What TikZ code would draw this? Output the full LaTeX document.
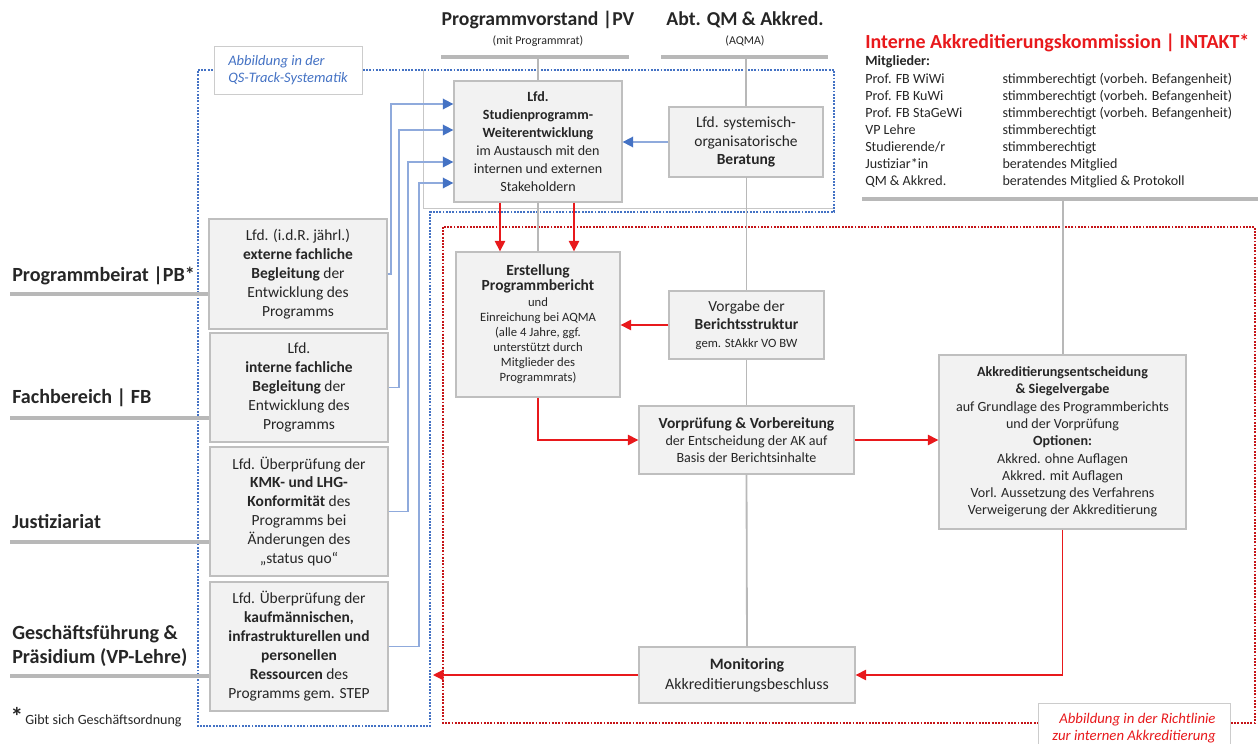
\documentclass[tikz,border=0pt]{standalone}
\usepackage{fontspec}
\setmainfont{Carlito}
\usetikzlibrary{positioning, arrows.meta, calc}
\definecolor{QSBlue}{HTML}{4472C4}
\definecolor{QSLine}{HTML}{8FAADC}
\definecolor{AkkRed}{HTML}{E8191C}
\definecolor{BoxFill}{HTML}{F2F2F2}
\definecolor{BoxLine}{HTML}{BFBFBF}
\definecolor{TextGrey}{HTML}{262626}

\begin{document}
\begin{tikzpicture}[x=0.025cm, y=-0.025cm,
  box/.style={draw=BoxLine, line width=0.9pt, fill=BoxFill, align=center,
    text=TextGrey, font=\fontsize{10}{12.3}\selectfont, inner sep=2pt},
  sidebox/.style={box, font=\fontsize{11}{13.5}\selectfont,
    minimum width=4.45cm, minimum height=3.225cm},
  orgline/.style={draw=black!28, line width=2.2pt},
  orglink/.style={draw=black!28, line width=1.3pt},
  qsarrow/.style={draw=QSLine, line width=1.2pt,
    -{Triangle[length=7.5pt,width=7.5pt,color=QSBlue]}},
  akkarrow/.style={draw=AkkRed, line width=0.9pt,
    -{Triangle[length=7.5pt,width=7.5pt]}},
  role/.style={font=\fontsize{14.3}{17}\selectfont\bfseries, text=TextGrey,
    anchor=base west, align=left, inner sep=0pt},
  head/.style={font=\fontsize{14}{16}\selectfont\bfseries, text=TextGrey},
  subhead/.style={font=\fontsize{8.5}{10}\selectfont, text=TextGrey},
  ]
  \useasboundingbox (0,0) rectangle (1258,744);

  % Rahmen QS-Track und Richtlinie
  \draw[black!22, line width=0.5pt] (423,70) -- (423,208) -- (834,208);
  \draw[QSBlue, densely dotted, line width=1.3pt]
    (198,70) -- (834,70) -- (834,212) -- (430,212) -- (430,726) -- (198,726) -- cycle;
  \draw[AkkRed!85!black, densely dotted, line width=1.3pt] (443,227) rectangle (1255,723);

  % Kopfzeilen
  \node[head] (pv) at (538,20) {Programmvorstand |PV};
  \node[subhead] (pvsub) at (538,41) {(mit Programmrat)};
  \node[head] (aqma) at (745,20) {Abt. QM \& Akkred.};
  \node[subhead] (aqmasub) at (745,41) {(AQMA)};
  \coordinate (pvL) at (441,57);
  \coordinate (pvR) at (629,57);
  \coordinate (pvM) at (538,57);
  \coordinate (aqL) at (661,57);
  \coordinate (aqR) at (828,57);
  \coordinate (aqM) at (746,57);
  \draw[orgline] (pvL) -- (pvR);
  \draw[orgline] (aqL) -- (aqR);

  % INTAKT
  \node[font=\fontsize{14.2}{16}\selectfont\bfseries, text=AkkRed, anchor=west, inner sep=0pt]
    (intakt) at (865,43) {Interne Akkreditierungskommission | INTAKT*};
  \node[font=\fontsize{10}{12.05}\selectfont, text=TextGrey, anchor=north west, inner sep=0pt]
    (mitglieder) at (865,53) {%
    \begin{tabular}{@{}p{3.43cm}@{}l@{}}
      \textbf{Mitglieder:} & \\[1pt]
      Prof. FB WiWi & stimmberechtigt (vorbeh. Befangenheit)\\
      Prof. FB KuWi & stimmberechtigt (vorbeh. Befangenheit)\\
      Prof. FB StaGeWi & stimmberechtigt (vorbeh. Befangenheit)\\
      VP Lehre & stimmberechtigt\\
      Studierende/r & stimmberechtigt\\
      Justiziar*in & beratendes Mitglied\\
      QM \& Akkred. & beratendes Mitglied \& Protokoll
    \end{tabular}};
  \coordinate (ikL) at (862,199);
  \coordinate (ikR) at (1258,199);
  \coordinate (ikM) at (1063,199);
  \draw[orgline] (ikL) -- (ikR);

  % Prozesskaesten
  \node[box, font=\fontsize{10}{12.9}\selectfont, minimum width=4.2cm, minimum height=3.025cm]
    (weiter) at (538,141.5)
    {\textbf{Lfd.}\\\textbf{Studienprogramm-}\\\textbf{Weiterentwicklung}\\
     im Austausch mit den\\internen und externen\\Stakeholdern};
  \node[box, font=\fontsize{11}{13}\selectfont, minimum width=3.85cm, minimum height=1.75cm]
    (beratung) at (746,142)
    {Lfd. systemisch-\\organisatorische\\\textbf{Beratung}};
  \node[box, font=\fontsize{9}{10.8}\selectfont, minimum width=4.1cm, minimum height=3.625cm]
    (erstellung) at (538,324.5)
    {{\fontsize{11}{13}\selectfont\bfseries Erstellung}\\
     {\fontsize{11}{13}\selectfont\bfseries Programmbericht}\\
     und\\Einreichung bei AQMA\\(alle 4 Jahre, ggf.\\unterstützt durch\\
     Mitglieder des\\Programmrats)};
  \node[box, font=\fontsize{11}{13}\selectfont, minimum width=3.875cm, minimum height=1.7cm]
    (vorgabe) at (746.5,325)
    {Vorgabe der\\\textbf{Berichtsstruktur}\\{\fontsize{9}{11}\selectfont gem. StAkkr VO BW}};
  \node[box, minimum width=5.375cm, minimum height=1.7cm] (vorpruef) at (746.5,440)
    {{\fontsize{11}{13}\selectfont\bfseries Vorprüfung \& Vorbereitung}\\
     der Entscheidung der AK auf\\Basis der Berichtsinhalte};
  \node[box, minimum width=6.175cm, minimum height=4.35cm] (akkred) at (1062.5,442)
    {\textbf{Akkreditierungsentscheidung}\\\textbf{\& Siegelvergabe}\\
     auf Grundlage des Programmberichts\\und der Vorprüfung\\\textbf{Optionen:}\\
     Akkred. ohne Auflagen\\Akkred. mit Auflagen\\
     Vorl. Aussetzung des Verfahrens\\Verweigerung der Akkreditierung};
  \node[box, font=\fontsize{11.3}{14}\selectfont, minimum width=5.4cm, minimum height=1.4cm]
    (monitor) at (747,675)
    {\textbf{Monitoring}\\Akkreditierungsbeschluss};

  % Begleitende Kaesten links
  \node[sidebox, minimum height=2.75cm] (extern) at (298,274)
    {Lfd. (i.d.R. jährl.)\\\textbf{externe fachliche}\\\textbf{Begleitung} der\\
     Entwicklung des\\Programms};
  \node[sidebox, minimum height=2.725cm] (intern) at (299,387.5)
    {Lfd.\\\textbf{interne fachliche}\\\textbf{Begleitung} der\\
     Entwicklung des\\Programms};
  \node[sidebox] (konform) at (299,511.5)
    {Lfd. Überprüfung der\\\textbf{KMK- und LHG-}\\\textbf{Konformität} des\\
     Programms bei\\Änderungen des\\„status quo“};
  \node[sidebox] (ressourcen) at (299,646.5)
    {Lfd. Überprüfung der\\\textbf{kaufmännischen,}\\\textbf{infrastrukturellen und}\\
     \textbf{personellen}\\\textbf{Ressourcen} des\\Programms gem. STEP};

  % Akteure links
  \node[role] (pb) at (12,281) {Programmbeirat |PB*};
  \node[role] (fb) at (12,403) {Fachbereich | FB};
  \node[role] (justiz) at (12,528) {Justiziariat};
  \node[role] (gf) at (12,663) {Geschäftsführung \&\\Präsidium (VP-Lehre)};
  \coordinate (pbL) at (10,294);
  \coordinate (fbL) at (10,418);
  \coordinate (justizL) at (10,542);
  \coordinate (gfL) at (10,676);
  \draw[orgline] (pbL) -- (extern.west |- pbL);
  \draw[orgline] (fbL) -- (intern.west |- fbL);
  \draw[orgline] (justizL) -- (konform.west |- justizL);
  \draw[orgline] (gfL) -- (ressourcen.west |- gfL);
  \node[font=\fontsize{18}{18}\selectfont\bfseries, text=TextGrey, inner sep=0pt] (stern) at (17,716) {*};
  \node[font=\fontsize{10}{12}\selectfont, text=TextGrey, anchor=base west, inner sep=0pt]
    (fussnote) at (25,724) {Gibt sich Geschäftsordnung};

  % Beschriftungen der Rahmen
  \node[draw=black!20, fill=white, text=QSBlue, font=\fontsize{10.3}{12.5}\selectfont\itshape,
    align=left, minimum width=3.7cm, minimum height=1.2cm] (qslabel) at (288,70)
    {Abbildung in der\\QS-Track-Systematik};
  \node[draw=black!20, fill=white, text=AkkRed, font=\fontsize{10.5}{12.5}\selectfont\itshape,
    align=right, minimum width=4.8cm, minimum height=1.25cm] (rllabel) at (1134,728)
    {Abbildung in der Richtlinie\\zur internen Akkreditierung};

  % Linien der Organisation
  \draw[orglink] (pvM) -- (weiter.north -| pvM);
  \draw[orglink] (weiter.south) -- (erstellung.north);
  \draw[orglink] (aqM) -- (beratung.north -| aqM);
  \draw[orglink] (beratung.south) -- (vorgabe.south |- beratung.south) -- (vorgabe.north);
  \draw[orglink] (vorgabe.south) -- (vorpruef.north);
  \draw[orglink] (vorpruef.south) -- (monitor.north);
  \draw[orglink] (ikM) -- (akkred.north -| ikM);

  % Begleitung -> Weiterentwicklung
  \draw[qsarrow] (extern.east) -| (391,104) -- (weiter.west |- 0,104);
  \draw[qsarrow] (intern.east) -| (399,130) -- (weiter.west |- 0,130);
  \draw[qsarrow] (konform.east) -| (408,162) -- (weiter.west |- 0,162);
  \draw[qsarrow] (ressourcen.east) -| (419,183) -- (weiter.west |- 0,183);
  \draw[qsarrow] (beratung.west) -- (weiter.east |- beratung.west);

  % Akkreditierungsablauf
  \coordinate (rueck) at (433,675);
  \draw[akkarrow] (weiter.south -| 500,0) -- (erstellung.north -| 500,0);
  \draw[akkarrow] (weiter.south -| 574,0) -- (erstellung.north -| 574,0);
  \draw[akkarrow] (vorgabe.west) -- (erstellung.east |- vorgabe.west);
  \draw[akkarrow] (erstellung.south) |- (vorpruef.west);
  \draw[akkarrow] (vorpruef.east) -- (akkred.west |- vorpruef.east);
  \draw[akkarrow] (akkred.south) |- (monitor.east);
  \draw[akkarrow] (monitor.west) -- (rueck);
\end{tikzpicture}
\end{document}
